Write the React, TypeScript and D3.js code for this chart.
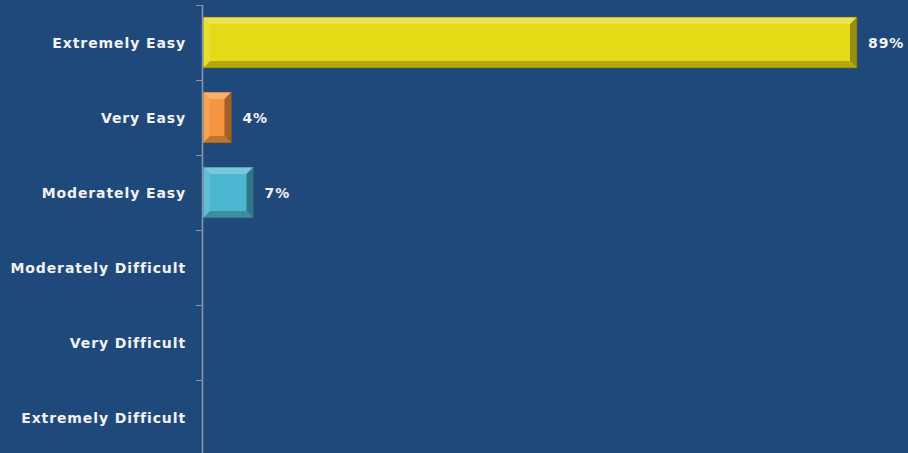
import React from "react";
import * as d3 from "d3";

const categories = [
  "Extremely Easy",
  "Very Easy",
  "Moderately Easy",
  "Moderately Difficult",
  "Very Difficult",
  "Extremely Difficult",
];
const values: (number | null)[] = [89, 4, 7, null, null, null];
const valueLabels = ["89%", "4%", "7%", "", "", ""];
const barColors = ["#E6DA16", "#F5953F", "#4AB6D0", "#999", "#999", "#999"];

const W = 908;
const H = 453;
const FONT = "'DejaVu Sans', Verdana, sans-serif";

export default function App() {
  const x = d3.scaleLinear().domain([0, 100]).range([202, 938]);
  const y = d3
    .scaleBand<string>()
    .domain(categories)
    .range([5, 455])
    .paddingInner(0.32)
    .paddingOuter(0.16);
  const step = y.step();
  const bevel = 7;

  return (
    <div style={{ position: "absolute", left: 0, top: 0, width: W, height: H }}>
      <svg width={W} height={H} style={{ display: "block" }}>
        <rect x={0} y={0} width={W} height={H} fill="#1F497A" />
        {categories.map((c, i) => {
          const v = values[i];
          if (v == null) return null;
          const x0 = x(0) + 1;
          const x1 = x(v);
          const y0 = y(c)!;
          const h = y.bandwidth();
          const y1 = y0 + h;
          const b = Math.min(bevel, (x1 - x0) / 3);
          const base = barColors[i];
          const lighter = d3.interpolateRgb(base, "#ffffff")(0.25);
          const light = d3.interpolateRgb(base, "#ffffff")(0.12);
          const dark = d3.interpolateRgb(base, "#000000")(0.22);
          const darker = d3.interpolateRgb(base, "#000000")(0.35);
          const edge = d3.interpolateRgb(base, "#000000")(0.55);
          return (
            <g key={c}>
              <rect x={x0} y={y0} width={x1 - x0} height={h} fill={base} />
              <polygon
                points={`${x0},${y0} ${x1},${y0} ${x1 - b},${y0 + b} ${x0 + b},${y0 + b}`}
                fill={lighter}
              />
              <polygon
                points={`${x0},${y0} ${x0 + b},${y0 + b} ${x0 + b},${y1 - b} ${x0},${y1}`}
                fill={light}
              />
              <polygon
                points={`${x0},${y1} ${x0 + b},${y1 - b} ${x1 - b},${y1 - b} ${x1},${y1}`}
                fill={dark}
              />
              <polygon
                points={`${x1},${y0} ${x1},${y1} ${x1 - b},${y1 - b} ${x1 - b},${y0 + b}`}
                fill={darker}
              />
              <rect
                x={x0}
                y={y0}
                width={x1 - x0}
                height={h}
                fill="none"
                stroke={edge}
                strokeWidth={1}
                strokeOpacity={0.6}
              />
              <text
                x={x1 + 11}
                y={y0 + h / 2}
                dy="0.36em"
                fill="#F2F2F2"
                fontFamily={FONT}
                fontWeight="bold"
                fontSize={14}
                letterSpacing={0.9}
              >
                {valueLabels[i]}
              </text>
            </g>
          );
        })}
        <line x1={202.5} x2={202.5} y1={5} y2={H} stroke="#8B97A8" strokeWidth={1.5} />
        {categories.map((c, i) => {
          const ty = Math.round(y(c)! - (step - y.bandwidth()) / 2) + 0.5;
          return (
            <line key={"t" + i} x1={196} x2={202} y1={ty} y2={ty} stroke="#8B97A8" strokeWidth={1} />
          );
        })}
        {categories.map((c) => (
          <text
            key={"l" + c}
            x={186}
            y={y(c)! + y.bandwidth() / 2}
            dy="0.36em"
            textAnchor="end"
            fill="#F2F2F2"
            fontFamily={FONT}
            fontWeight="bold"
            fontSize={14}
            letterSpacing={0.9}
          >
            {c}
          </text>
        ))}
      </svg>
    </div>
  );
}
